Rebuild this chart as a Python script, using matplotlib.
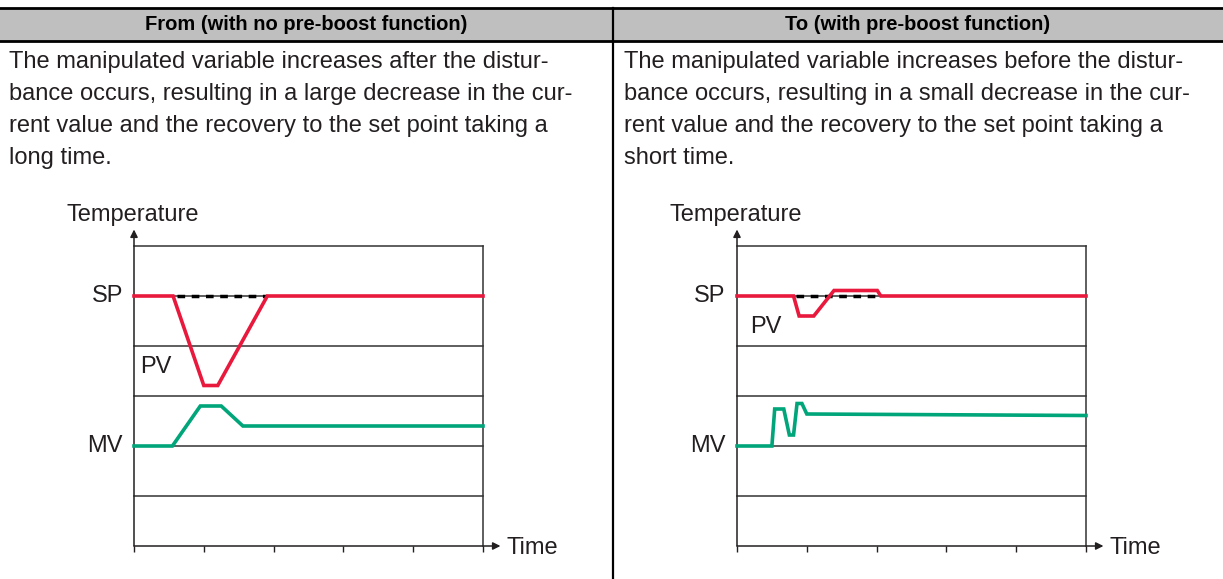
import matplotlib
matplotlib.use('Agg')
from matplotlib import pyplot as plt
from matplotlib import patches
from matplotlib import font_manager

# ~~~~~~~~~~~~~~~~~~~~ data ~~~~~~~~~~~~~~~~~~~~
headers = ['From (with no pre-boost function)', 'To (with pre-boost function)']
left_text = ['The manipulated variable increases after the distur-',
             'bance occurs, resulting in a large decrease in the cur-',
             'rent value and the recovery to the set point taking a',
             'long time.']
right_text = ['The manipulated variable increases before the distur-',
              'bance occurs, resulting in a small decrease in the cur-',
              'rent value and the recovery to the set point taking a',
              'short time.']

time_ticks = [0, 1, 2, 3, 4, 5]
grid_levels = [1, 2, 3, 4, 5, 6]
sp_level = 5
mv_level = 2

# without pre-boost
left_pv_x = [0, 0.56, 1.0, 1.2, 1.91, 5]
left_pv_y = [5, 5, 3.21, 3.21, 5, 5]
left_sp_x = [0.62, 1.91]
left_mv_x = [0, 0.55, 0.95, 1.25, 1.56, 5]
left_mv_y = [2, 2, 2.8, 2.8, 2.4, 2.4]

# with pre-boost
right_pv_x = [0, 0.81, 0.89, 1.1, 1.39, 2.01, 2.06, 5]
right_pv_y = [5, 5, 4.6, 4.6, 5.11, 5.11, 5, 5]
right_sp_x = [0.85, 2.01]
right_mv_x = [0, 0.50, 0.54, 0.67, 0.75, 0.81, 0.86, 0.93, 1.0, 5]
right_mv_y = [2, 2, 2.74, 2.74, 2.22, 2.22, 2.85, 2.85, 2.64, 2.61]

# ~~~~~~~~~~~~~~~~~~~~ style ~~~~~~~~~~~~~~~~~~~~
W, H = 1223, 579
RED = '#e8193c'
GREEN = '#00a57a'
INK = '#231f20'
GRID = '#333333'
FS = 17

plt.rcParams['font.family'] = ['Liberation Sans', 'DejaVu Sans']
names = {f.name for f in font_manager.fontManager.ttflist}
head_font = 'Liberation Sans Narrow' if 'Liberation Sans Narrow' in names else 'Liberation Sans'
head_fs = FS if head_font == 'Liberation Sans Narrow' else 14.5

fig = plt.figure(figsize=(W / 100, H / 100), dpi=100)

# background "table" in pixel coords
bg = fig.add_axes([0, 0, 1, 1])
bg.set_xlim(0, W); bg.set_ylim(H, 0); bg.axis('off')
bg.add_patch(patches.Rectangle((0, 8), W, 33, facecolor='#bfbfbf', edgecolor='none'))
bg.plot([0, W], [8, 8], color='black', lw=2)
bg.plot([0, W], [41, 41], color='black', lw=2)
bg.plot([613, 613], [8, H], color='black', lw=1.6)
bg.text(306, 24.5, headers[0], ha='center', va='center', fontsize=head_fs,
        fontweight='bold', family=head_font, color='black')
bg.text(918, 24.5, headers[1], ha='center', va='center', fontsize=head_fs,
        fontweight='bold', family=head_font, color='black')
for i, (lt, rt) in enumerate(zip(left_text, right_text)):
    y = 68 + i * 32
    bg.text(9, y, lt, ha='left', va='baseline', fontsize=FS, color=INK)
    bg.text(624, y, rt, ha='left', va='baseline', fontsize=FS, color=INK)


def draw_chart(x0, pv_x, pv_y, sp_x, mv_x, mv_y, pv_pos, sp_lab_x):
    x1 = x0 + 349
    ax = fig.add_axes([x0 / W, (H - 546) / H, (x1 - x0) / W, 300 / H])
    ax.set_xlim(0, 5); ax.set_ylim(0, 6)
    for s in ax.spines.values():
        s.set_visible(False)
    ax.set_facecolor('none')
    for g in grid_levels:
        ax.axhline(g, color=GRID, lw=1.1, zorder=1, clip_on=False)
    ax.axvline(5, color=GRID, lw=1.1, zorder=1, clip_on=False)
    # axes with arrows
    ax.annotate('', xy=(0, 6.33), xytext=(0, 0), annotation_clip=False,
                arrowprops=dict(arrowstyle='-|>', color=INK, lw=1.1,
                                mutation_scale=11, shrinkA=0, shrinkB=0))
    ax.annotate('', xy=(5.25, 0), xytext=(0, 0), annotation_clip=False,
                arrowprops=dict(arrowstyle='-|>', color=INK, lw=1.1,
                                mutation_scale=11, shrinkA=0, shrinkB=0))
    ax.set_xticks(time_ticks)
    ax.set_yticks([])
    ax.tick_params(axis='x', direction='out', length=4, width=1.0,
                   color=INK, labelbottom=False)

    ax.plot(sp_x, [sp_level] * len(sp_x), color='black', lw=2.5,
            linestyle=(0, (2.2, 1.9)), zorder=2, clip_on=False)
    ax.plot(pv_x, pv_y, color=RED, lw=2.6, zorder=3, clip_on=False,
            solid_joinstyle='miter')
    ax.plot(mv_x, mv_y, color=GREEN, lw=2.6, zorder=3, clip_on=False,
            solid_joinstyle='miter')

    ax.text(-0.97, 6.62, 'Temperature', ha='left', va='center', fontsize=FS, color=INK)
    ax.text(sp_lab_x, sp_level, 'SP', ha='right', va='center', fontsize=FS, color=INK)
    ax.text(sp_lab_x, mv_level, 'MV', ha='right', va='center', fontsize=FS, color=INK)
    ax.text(pv_pos[0], pv_pos[1], 'PV', ha='left', va='center', fontsize=FS, color=INK)
    ax.text(5.34, -0.04, 'Time', ha='left', va='center', fontsize=FS, color=INK)
    return ax


draw_chart(134, left_pv_x, left_pv_y, left_sp_x, left_mv_x, left_mv_y,
           (0.09, 3.58), -0.16)
draw_chart(737, right_pv_x, right_pv_y, right_sp_x, right_mv_x, right_mv_y,
           (0.19, 4.38), -0.17)

fig.savefig('out.png', dpi=100)
